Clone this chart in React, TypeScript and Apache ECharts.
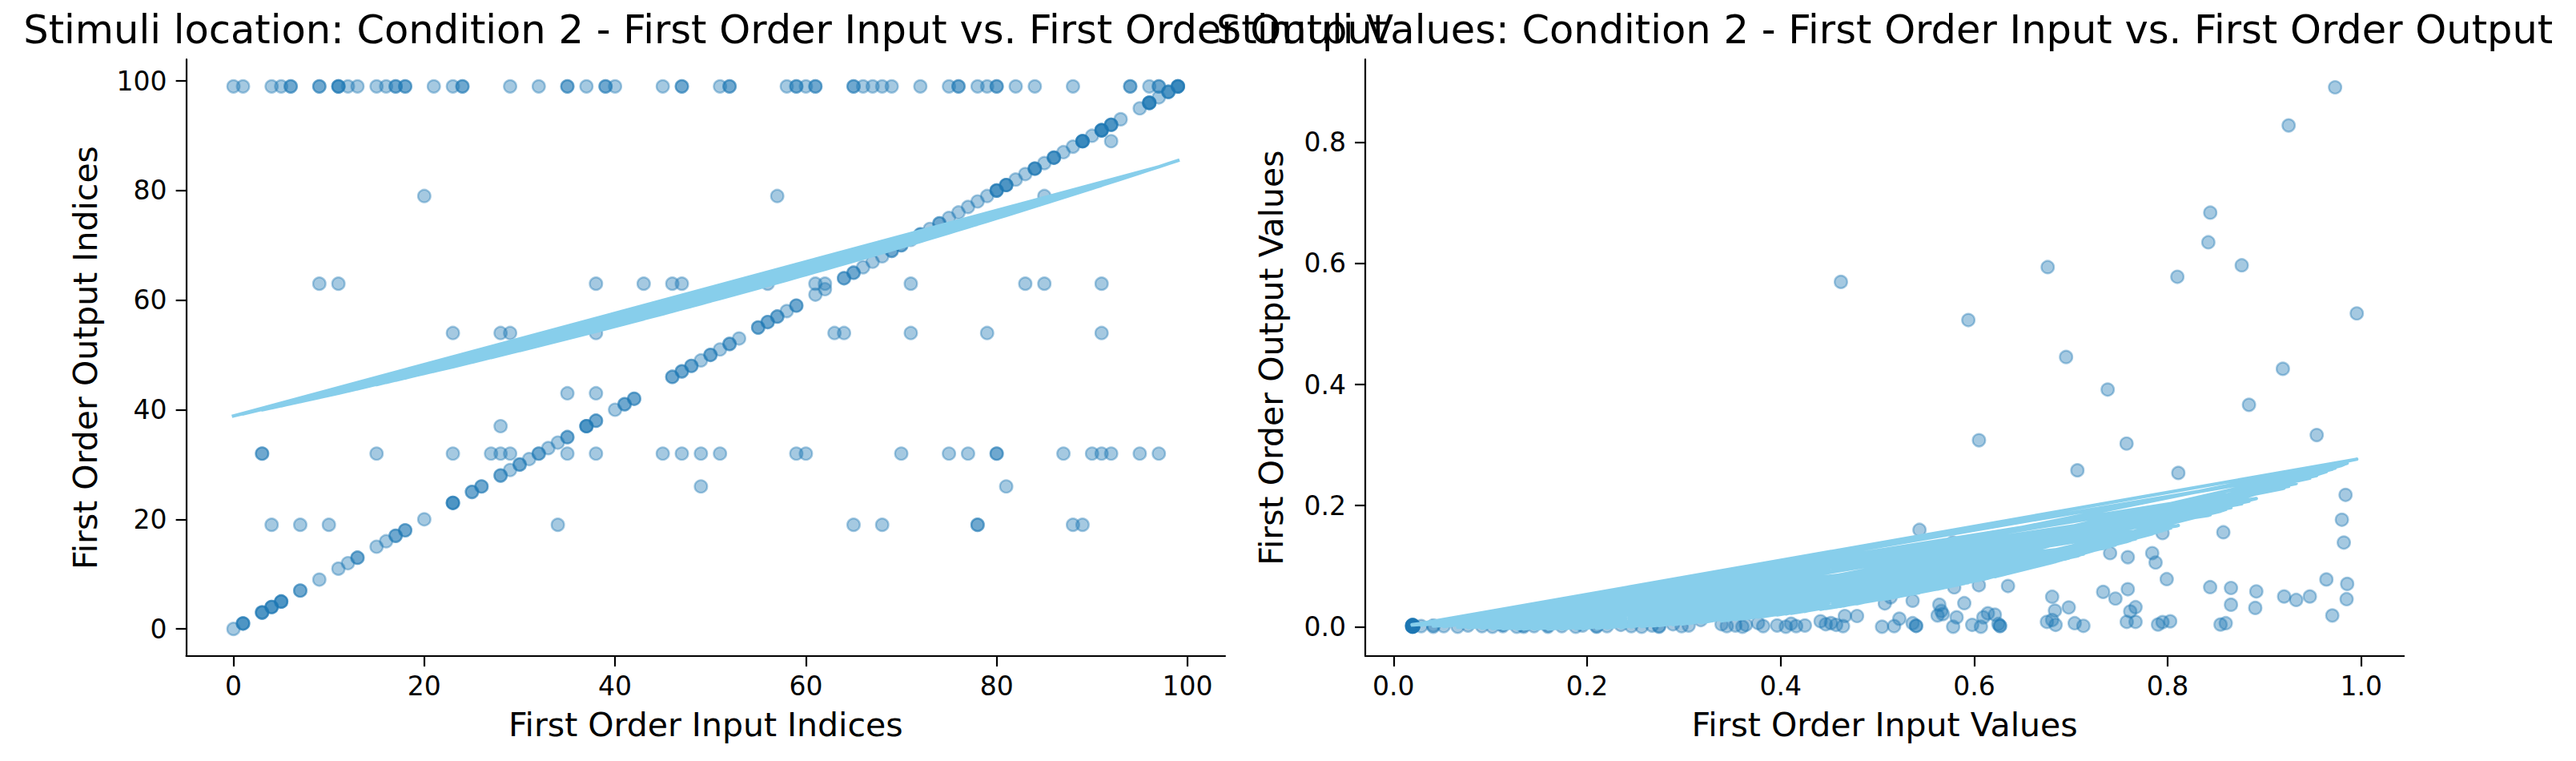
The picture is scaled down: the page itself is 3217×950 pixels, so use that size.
import React, { useEffect, useRef } from "react";
import * as echarts from "echarts";

const FONT = "DejaVu Sans";
const POINT_COLOR = "rgba(31,119,180,0.5)";
const FIT_COLOR = "#87ceeb";

// ---------- Left panel: stimulus indices ----------
// Trials whose output index equals the input index
const matchedIdx = [
  0, 1, 1, 1, 3, 3, 3, 4, 4, 4, 5, 5, 5, 7, 7, 9, 11, 12, 13, 13, 15, 16, 17, 17, 18, 18, 20, 23, 23, 23, 25, 25,
  26, 26, 28, 28, 29, 30, 30, 31, 32, 32, 33, 34, 35, 35, 37, 37, 37, 38, 38, 40, 41, 41, 42, 42, 46, 46, 47, 47,
  48, 48, 49, 50, 50, 51, 52, 52, 53, 55, 55, 56, 56, 57, 57, 58, 59, 59, 61, 62, 64, 64, 65, 65, 66, 67, 68, 69,
  69, 70, 70, 71, 72, 72, 73, 74, 74, 75, 76, 77, 78, 79, 80, 80, 80, 81, 81, 81, 82, 83, 84, 84, 84, 85, 86, 86,
  86, 87, 88, 89, 89, 89, 89, 90, 91, 91, 91, 91, 92, 92, 92, 93, 95, 96, 96, 96, 96, 97, 98, 98, 98, 99, 99, 99,
  99,
];
// Trials grouped by the output index they produced: [output index, input indices]
const out99Inputs = [
  97, 97, 96, 94, 94, 88, 84, 82, 80, 80, 79, 78, 76, 76, 75, 72, 69, 68, 67, 66, 65, 65, 61, 61, 60, 59, 59, 58,
  52, 52, 51, 47, 47, 45, 40, 39, 39, 37, 35, 35, 32, 29, 24, 24, 23, 21, 18, 18, 17, 17, 16, 15, 13, 12, 11, 11,
  11, 9, 9, 6, 6, 5, 4, 1, 0,
];
const out32Inputs = [3, 3, 15, 23, 27, 28, 29, 35, 38, 45, 47, 49, 51, 59, 60, 70, 75, 77, 80, 80, 87, 90, 91, 92, 95, 97];
const out63Inputs = [9, 11, 38, 43, 46, 47, 56, 61, 62, 71, 83, 85, 91];
const out54Inputs = [23, 28, 29, 38, 63, 64, 71, 79, 91];
const out19Inputs = [4, 7, 10, 34, 65, 68, 78, 78, 88, 89];
const out79Inputs = [20, 57, 85];
const out43Inputs = [35, 38];
const out26Inputs = [49, 81];
const out37Inputs = [28];
const out89Inputs = [92];

const outputRows: [number, number[]][] = [
  [99, out99Inputs],
  [32, out32Inputs],
  [63, out63Inputs],
  [54, out54Inputs],
  [19, out19Inputs],
  [79, out79Inputs],
  [43, out43Inputs],
  [26, out26Inputs],
  [37, out37Inputs],
  [89, out89Inputs],
];

// ---------- Right panel: stimulus values [input, output] ----------
const lowInputCluster = [
  [0.0196, 0.001], [0.0201, 0.0003], [0.0193, 0.0021], [0.0198, 0.0005], [0.0204, 0.0014],
  [0.0195, 0.0], [0.0199, 0.0028], [0.0202, 0.0008], [0.0191, 0.0012], [0.0197, 0.0031],
  [0.02, 0.0002], [0.0194, 0.0017], [0.0203, 0.0022], [0.0196, 0.0006], [0.0199, 0.0011],
  [0.0192, 0.0004], [0.0205, 0.0009], [0.0198, 0.0019], [0.0195, 0.0025], [0.0201, 0.0015],
];
const quietLowInputs = [
  [0.0286, 0.001], [0.0411, 0.0], [0.0411, 0.002], [0.0519, 0.001], [0.0663, 0.0], [0.077, 0.002],
  [0.0914, 0.001], [0.1022, 0.0], [0.113, 0.001], [0.113, 0.003], [0.1273, 0.0], [0.1345, 0.002],
  [0.1345, 0.0], [0.1452, 0.001], [0.1596, 0.0], [0.1596, 0.002], [0.1739, 0.001], [0.1883, 0.0],
  [0.1954, 0.002], [0.2098, 0.001], [0.2098, 0.0], [0.2206, 0.001], [0.2349, 0.003], [0.2457, 0.001],
  [0.2564, 0.0], [0.2672, 0.002], [0.2744, 0.001], [0.2744, 0.0], [0.2888, 0.004], [0.2977, 0.001],
  [0.305, 0.002], [0.3175, 0.011], [0.339, 0.004], [0.3444, 0.001], [0.3533, 0.002], [0.3605, 0.0],
  [0.3641, 0.003], [0.3767, 0.006], [0.382, 0.001], [0.3964, 0.002], [0.4054, 0.0], [0.4108, 0.005],
  [0.4161, 0.001], [0.4251, 0.002], [0.4413, 0.009], [0.4467, 0.004], [0.452, 0.006], [0.4574, 0.003],
  [0.4645, 0.001], [0.4664, 0.0177], [0.479, 0.0177],
];
const quietHighInputs = [
  [0.5048, 0.0], [0.5173, 0.001], [0.5364, 0.0058], [0.54, 0.0014], [0.54, 0.0014], [0.5783, 0.0],
  [0.598, 0.003], [0.607, 0.0], [0.625, 0.0045], [0.6267, 0.0013], [0.6267, 0.0013], [0.6752, 0.008],
  [0.6842, 0.003], [0.7039, 0.0058], [0.7129, 0.0014], [0.7577, 0.008], [0.7668, 0.008], [0.79, 0.0036],
  [0.7947, 0.0076], [0.8546, 0.0036], [0.86, 0.0058],
];
const weakResponses = [
  [0.8439, 0.0654], [0.8654, 0.064], [0.8916, 0.0583], [0.7333, 0.0575], [0.7588, 0.0619], [0.635, 0.0672],
  [0.6049, 0.0685], [0.5794, 0.065], [0.6806, 0.0495], [0.746, 0.0464], [0.5364, 0.0429], [0.9203, 0.0499],
  [0.9328, 0.0442], [0.9469, 0.0499], [0.9849, 0.0455], [0.8654, 0.0363], [0.8905, 0.031], [0.9701, 0.0185],
  [0.5898, 0.0389], [0.564, 0.0363], [0.566, 0.026], [0.6978, 0.0318], [0.6835, 0.0265], [0.7668, 0.0323],
  [0.7613, 0.0252], [0.5077, 0.0384], [0.5137, 0.0486], [0.5227, 0.0132], [0.5622, 0.0185], [0.5676, 0.0208],
  [0.5819, 0.0155], [0.6095, 0.0155], [0.6142, 0.0221], [0.6214, 0.0199], [0.6806, 0.011], [0.8026, 0.0089],
];
const strongResponses = [
  [0.973, 0.891], [0.925, 0.828], [0.844, 0.684], [0.842, 0.635], [0.676, 0.594], [0.8765, 0.597],
  [0.4623, 0.5696], [0.81, 0.578], [0.9954, 0.5175], [0.594, 0.5065], [0.695, 0.4455], [0.919, 0.426],
  [0.738, 0.3917], [0.884, 0.3665], [0.954, 0.3166], [0.605, 0.308], [0.7575, 0.3025], [0.7067, 0.2583],
  [0.811, 0.254], [0.9838, 0.2177], [0.98, 0.1767], [0.982, 0.139], [0.5435, 0.16], [0.8575, 0.156],
  [0.7947, 0.1546], [0.578, 0.139], [0.7057, 0.126], [0.7405, 0.1215], [0.7588, 0.1148], [0.784, 0.1215],
  [0.7875, 0.106], [0.799, 0.0786], [0.964, 0.078], [0.9855, 0.0707],
];

// Axis ticks
const indexTicks = [0, 20, 40, 60, 80, 100];
const valueXTicks = [0, 0.2, 0.4, 0.6, 0.8, 1.0];
const valueYTicks = [0, 0.2, 0.4, 0.6, 0.8];

// Axis limits (data extent plus 5% padding)
const indexLimits = [-4.95, 103.95];
const valueXLimits = [-0.0292, 1.0442];
const valueYLimits = [-0.0485, 0.9373];

const FIT_DEGREE = 2;

// Trials come from the groups in alternating (trial) order
function interleave(groups: number[][][]): number[][] {
  const out: number[][] = [];
  const n = Math.max(...groups.map((g) => g.length));
  for (let i = 0; i < n; i++) for (const g of groups) if (i < g.length) out.push(g[i]);
  return out;
}

// Least-squares polynomial fit, returns coefficients for x^0..x^deg
function polyfit(pts: number[][], deg: number): number[] {
  const m = deg + 1;
  const A = Array.from({ length: m }, () => new Array(m + 1).fill(0));
  for (const [x, y] of pts) {
    const pw = [1];
    for (let k = 1; k < 2 * m; k++) pw.push(pw[k - 1] * x);
    for (let r = 0; r < m; r++) {
      for (let c = 0; c < m; c++) A[r][c] += pw[r + c];
      A[r][m] += pw[r] * y;
    }
  }
  for (let col = 0; col < m; col++) {
    let piv = col;
    for (let r = col + 1; r < m; r++) if (Math.abs(A[r][col]) > Math.abs(A[piv][col])) piv = r;
    [A[col], A[piv]] = [A[piv], A[col]];
    for (let r = 0; r < m; r++) {
      if (r === col) continue;
      const f = A[r][col] / A[col][col];
      for (let c = col; c <= m; c++) A[r][c] -= f * A[col][c];
    }
  }
  return A.map((row, i) => row[m] / row[i]);
}
const evalPoly = (coef: number[], x: number) => coef.reduce((s, c, k) => s + c * Math.pow(x, k), 0);

const leftTrials = interleave([
  matchedIdx.map((v) => [v, v]),
  ...outputRows.map(([out, ins]) => ins.map((i) => [i, out])),
]);
// Low-input and high-input trials alternate
const lowSide = interleave([lowInputCluster, quietLowInputs]);
const highSide = interleave([strongResponses, weakResponses, quietHighInputs]);
const rightTrials = interleave([lowSide, highSide]);

const leftCoef = polyfit(leftTrials, FIT_DEGREE);
const rightCoef = polyfit(rightTrials, FIT_DEGREE);
const leftFit = leftTrials.map(([x]) => [x, evalPoly(leftCoef, x)]);
const rightFit = rightTrials.map(([x]) => [x, evalPoly(rightCoef, x)]);

const GRID_TOP = 74;
const GRID_H = 745;
const LEFT_GRID = { left: 232.6, top: GRID_TOP, width: 1297.4, height: GRID_H };
const RIGHT_GRID = { left: 1705, top: GRID_TOP, width: 1297.2, height: GRID_H };

const tickFont = { fontSize: 33, fontFamily: FONT, color: "#000" };
const axisLine = { show: true, onZero: false, lineStyle: { color: "#000", width: 2.2 } };

function makeAxis(gridIndex: number, limits: number[], ticks: number[], digits: number, isX: boolean) {
  return {
    type: "value",
    gridIndex,
    min: limits[0],
    max: limits[1],
    axisLine,
    axisTick: { show: true, length: 13, lineStyle: { color: "#000", width: 2.2 }, customValues: ticks },
    axisLabel: {
      ...tickFont,
      margin: isX ? 21 : 24,
      customValues: ticks,
      formatter: (v: number) => v.toFixed(digits),
    },
    splitLine: { show: false },
  };
}

function textEl(text: string, x: number, y: number, size: number, rotation = 0) {
  return {
    type: "text",
    x,
    y,
    rotation,
    silent: true,
    style: {
      text,
      fontSize: size,
      fontFamily: FONT,
      fill: "#000",
      textAlign: "center",
      textVerticalAlign: "middle",
      align: "center",
      verticalAlign: "middle",
    },
  };
}

export default function App() {
  const ref = useRef<HTMLDivElement>(null);
  useEffect(() => {
    if (!ref.current) return;
    const chart = echarts.init(ref.current, null, { renderer: "svg" });
    const leftCx = LEFT_GRID.left + LEFT_GRID.width / 2;
    const rightCx = RIGHT_GRID.left + RIGHT_GRID.width / 2;
    const midY = GRID_TOP + GRID_H / 2;
    const scatterStyle = { color: POINT_COLOR, borderColor: POINT_COLOR, borderWidth: 2.4 };
    const fitStyle = { color: FIT_COLOR, width: 4.2, join: "round", cap: "square" };
    chart.setOption({
      animation: false,
      backgroundColor: "#fff",
      grid: [
        { ...LEFT_GRID, containLabel: false },
        { ...RIGHT_GRID, containLabel: false },
      ],
      xAxis: [makeAxis(0, indexLimits, indexTicks, 0, true), makeAxis(1, valueXLimits, valueXTicks, 1, true)],
      yAxis: [makeAxis(0, indexLimits, indexTicks, 0, false), makeAxis(1, valueYLimits, valueYTicks, 1, false)],
      series: [
        {
          type: "scatter",
          xAxisIndex: 0,
          yAxisIndex: 0,
          data: leftTrials,
          symbol: "circle",
          symbolSize: 15.6,
          itemStyle: scatterStyle,
          silent: true,
          z: 2,
        },
        {
          type: "line",
          xAxisIndex: 0,
          yAxisIndex: 0,
          data: leftFit,
          showSymbol: false,
          symbol: "none",
          lineStyle: fitStyle,
          silent: true,
          z: 3,
        },
        {
          type: "scatter",
          xAxisIndex: 1,
          yAxisIndex: 1,
          data: rightTrials,
          symbol: "circle",
          symbolSize: 15.6,
          itemStyle: scatterStyle,
          silent: true,
          z: 2,
        },
        {
          type: "line",
          xAxisIndex: 1,
          yAxisIndex: 1,
          data: rightFit,
          showSymbol: false,
          symbol: "none",
          lineStyle: fitStyle,
          silent: true,
          z: 3,
        },
      ],
      graphic: [
        textEl("Stimuli location: Condition 2 - First Order Input vs. First Order Output", leftCx, 37, 49.5),
        textEl("Stimuli Values: Condition 2 - First Order Input vs. First Order Output", rightCx, 37, 49.5),
        textEl("First Order Input Indices", leftCx, 905, 41),
        textEl("First Order Input Values", rightCx, 905, 41),
        textEl("First Order Output Indices", 106.7, midY, 41, Math.PI / 2),
        textEl("First Order Output Values", 1588, midY, 41, Math.PI / 2),
      ],
    });
    return () => chart.dispose();
  }, []);
  return (
    <div
      ref={ref}
      style={{ position: "fixed", left: 0, top: 0, width: 3217, height: 950, background: "#fff" }}
    />
  );
}
